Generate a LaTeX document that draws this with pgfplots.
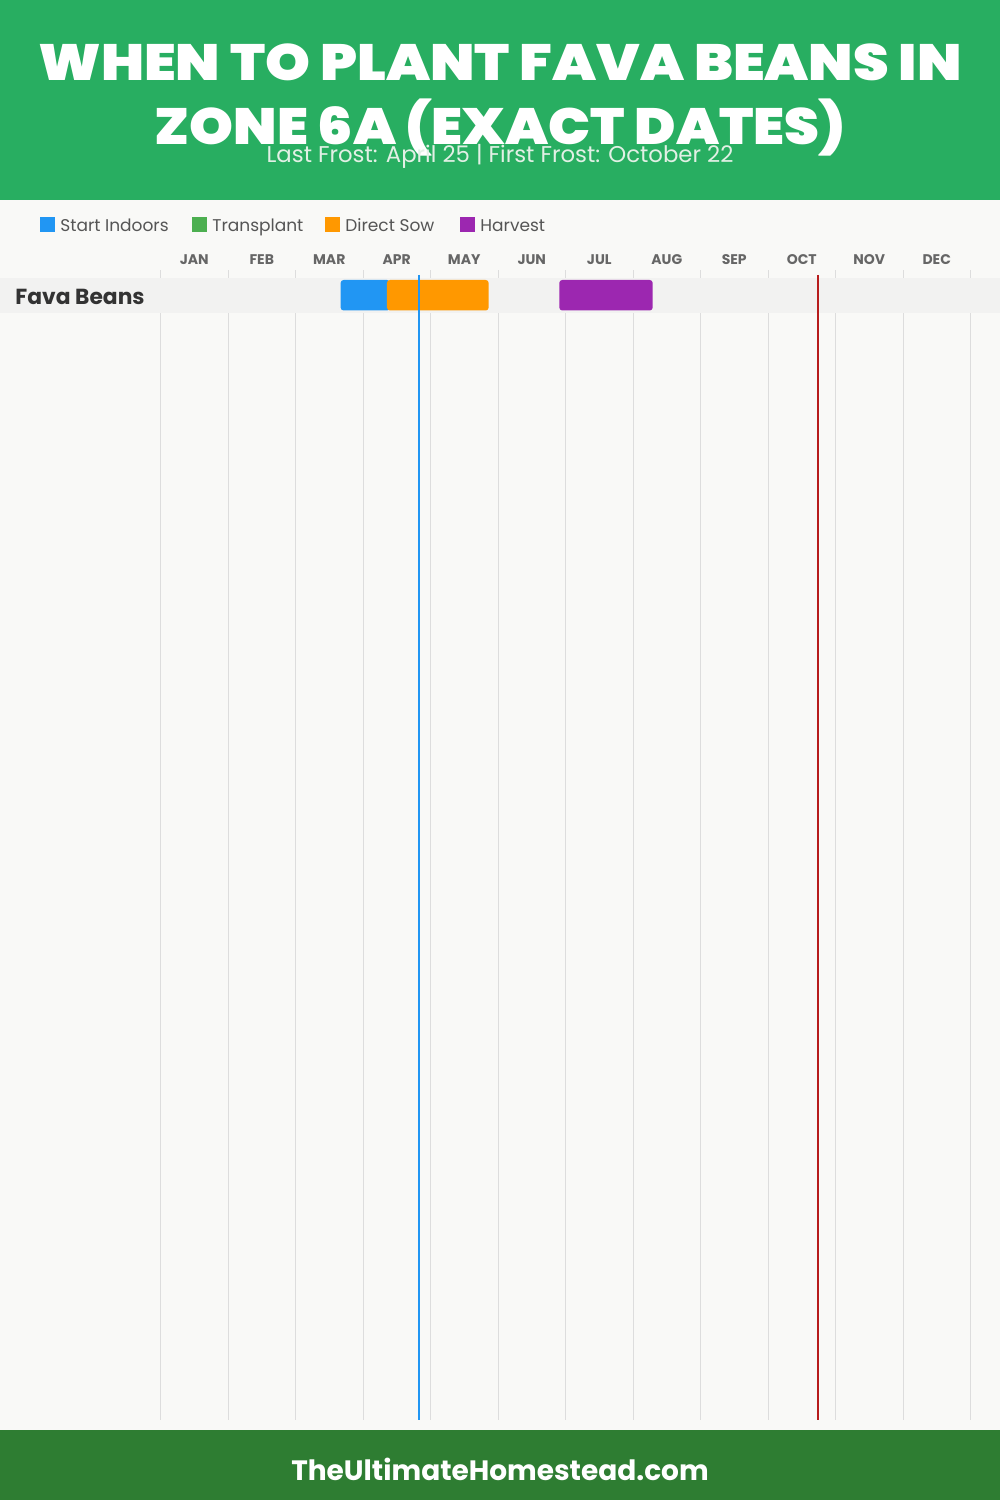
\documentclass[border=0pt]{standalone}
\usepackage{graphicx}
\usepackage{pgfplots}
\pgfplotsset{compat=1.18}
\usepackage{fontspec}
\setmainfont{Poppins}
\newfontfamily\titlefont{Poppins Black}
\definecolor{bgc}{HTML}{F9F9F7}
\definecolor{headc}{HTML}{28AE61}
\definecolor{footc}{HTML}{2E7D32}
\definecolor{subc}{HTML}{E2F0E5}
\definecolor{rowc}{HTML}{F2F2F1}
\definecolor{gridc}{HTML}{DDDDDD}
\definecolor{cblue}{HTML}{2196F3}
\definecolor{cgreen}{HTML}{4CAF50}
\definecolor{corange}{HTML}{FF9800}
\definecolor{cpurple}{HTML}{9C27B0}
\definecolor{cred}{HTML}{B71C1C}
\definecolor{monthc}{HTML}{666666}
\definecolor{legc}{HTML}{555555}
\definecolor{namec}{HTML}{333333}
\begin{document}
\begin{tikzpicture}
\fill[bgc] (0pt,0pt) rectangle (500pt,750pt);
\fill[headc] (0pt,650pt) rectangle (500pt,750pt);
\fill[footc] (0pt,0pt) rectangle (500pt,35pt);
\node[anchor=base, inner sep=0, text=white, font=\fontsize{25.5}{26}\selectfont\titlefont] at (250pt,709.5pt) {\scalebox{1.12}[1]{WHEN TO PLANT FAVA BEANS IN}};
\node[anchor=base, inner sep=0, text=white, font=\fontsize{25.5}{26}\selectfont\titlefont] at (250pt,677.5pt) {\scalebox{1.095}[1]{ZONE 6A (EXACT DATES)}};
\node[anchor=base, inner sep=0, text=subc, font=\fontsize{11.4}{12}\selectfont] at (250pt,668.5pt) {Last Frost: April 25 | First Frost: October 22};
% legend
\fill[cblue] (20pt,634pt) rectangle (27.5pt,641.5pt);
\node[anchor=base west, inner sep=0, text=legc, font=\fontsize{8.5}{9}\selectfont] at (30pt,634pt) {Start Indoors};
\fill[cgreen] (96pt,634pt) rectangle (103.5pt,641.5pt);
\node[anchor=base west, inner sep=0, text=legc, font=\fontsize{8.5}{9}\selectfont] at (106pt,634pt) {Transplant};
\fill[corange] (162.5pt,634pt) rectangle (170pt,641.5pt);
\node[anchor=base west, inner sep=0, text=legc, font=\fontsize{8.5}{9}\selectfont] at (172.5pt,634pt) {Direct Sow};
\fill[cpurple] (230pt,634pt) rectangle (237.5pt,641.5pt);
\node[anchor=base west, inner sep=0, text=legc, font=\fontsize{8.5}{9}\selectfont] at (240pt,634pt) {Harvest};
\begin{axis}[
  at={(80.25pt,40pt)}, anchor=south west,
  scale only axis, width=405pt, height=575pt,
  xmin=0, xmax=12, ymin=-1420, ymax=-270,
  clip=false,
  axis line style={draw=none},
  ytick=\empty,
  xtick={0.5,1.5,...,11.5},
  xticklabels={JAN,FEB,MAR,APR,MAY,JUN,JUL,AUG,SEP,OCT,NOV,DEC},
  xticklabel pos=upper,
  major tick length=0pt, minor tick length=0pt,
  minor xtick={0,1,...,12},
  xminorgrids,
  minor grid style={draw=gridc, line width=0.5pt},
  xticklabel style={anchor=base, yshift=2.5pt, text=monthc, font=\fontsize{7}{7}\selectfont\bfseries},
]
\addplot[fill=rowc, draw=none] coordinates {(-2.378,-277.7) (12.437,-277.7) (12.437,-312.7) (-2.378,-312.7)} -- cycle;
\addplot[fill=cblue, draw=none, rounded corners=1.5pt] coordinates {(2.668,-280) (3.40,-280) (3.40,-310.5) (2.668,-310.5)} -- cycle;
\addplot[fill=corange, draw=none, rounded corners=1.5pt] coordinates {(3.355,-280) (4.862,-280) (4.862,-310.5) (3.355,-310.5)} -- cycle;
\addplot[fill=cpurple, draw=none, rounded corners=1.5pt] coordinates {(5.908,-280) (7.292,-280) (7.292,-310.5) (5.908,-310.5)} -- cycle;
\addplot[draw=cblue, line width=1pt] coordinates {(3.83,-275) (3.83,-1420)};
\addplot[draw=cred, line width=1pt] coordinates {(9.736,-275) (9.736,-1420)};
\end{axis}
\node[anchor=base west, inner sep=0, text=namec, font=\fontsize{10.9}{11}\selectfont\bfseries] at (7.5pt,597.5pt) {Fava Beans};
\node[anchor=base, inner sep=0, text=white, font=\fontsize{14}{14}\selectfont\bfseries] at (250pt,9.5pt) {TheUltimateHomestead.com};
\pgfresetboundingbox
\useasboundingbox (0pt,0pt) rectangle (500pt,750pt);
\end{tikzpicture}
\end{document}
